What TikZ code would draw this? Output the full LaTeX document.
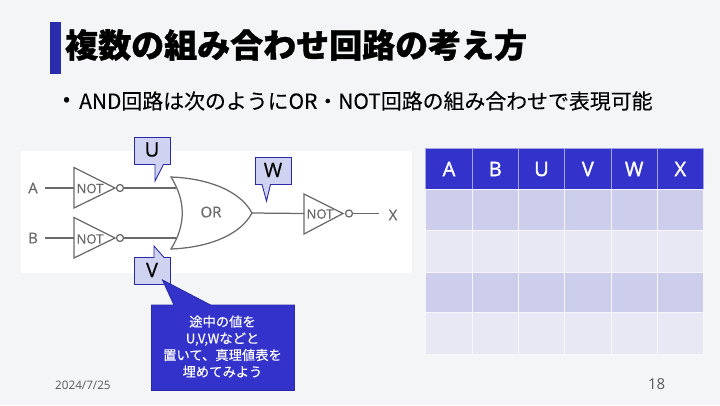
\documentclass[tikz,border=0pt]{standalone}
\usepackage{fontspec}
\setmainfont{Noto Sans CJK JP}
\newfontfamily\latinfont{Open Sans}
\newfontfamily\latinmid[FakeBold=0.4]{Open Sans}
\newfontfamily\latinheavy[FakeBold=1.5]{Open Sans}
\newfontfamily\titlefont[BoldFeatures={FakeBold=1.0}]{Noto Sans CJK JP}
\newfontfamily\bodyfont[FakeBold=0.15]{Noto Sans CJK JP}
\newfontfamily\notefont[FakeBold=0.3]{Noto Sans CJK JP}
\definecolor{pagebg}{HTML}{F4F5F7}
\definecolor{accent}{HTML}{3333CC}
\definecolor{edgeblue}{HTML}{2A2AA8}
\definecolor{bandA}{HTML}{CDCDEC}
\definecolor{bandB}{HTML}{E8E8F5}
\definecolor{calloutfill}{HTML}{CFD3F1}
\definecolor{wire}{HTML}{6A6A6A}
\tikzset{
  px/.style={x=1pt,y=-1pt},
  gateline/.style={draw=wire,line width=1.25pt},
  gatetext/.style={text=wire,font=\latinmid\fontsize{13}{15}\selectfont,inner sep=0pt},
  pintext/.style={text=wire,font=\latinmid\fontsize{15}{17}\selectfont,inner sep=0pt},
  bubble/.style={circle,draw=wire,line width=1.25pt,fill=white,minimum size=7pt,inner sep=0pt},
  callout/.style={draw=edgeblue,line width=.9pt,fill=calloutfill,line join=miter},
  calloutlabel/.style={text=black,font=\latinmid\fontsize{20}{22}\selectfont,inner sep=0pt},
  headcell/.style={draw=white!55!accent,line width=.8pt,fill=accent},
  headlabel/.style={text=white,font=\latinheavy\fontsize{20}{22}\selectfont,inner sep=0pt},
  bodycell/.style={draw=white!55!bandB,line width=.8pt},
}
\begin{document}
\begin{tikzpicture}[px]
\useasboundingbox (0,0) rectangle (720,405);
\fill[pagebg] (0,0) rectangle (720,405);
% title
\fill[accent!85!black] (50,22) rectangle (61,74);
\node[anchor=west,inner sep=0pt,text=black,font=\titlefont\fontsize{33}{36}\selectfont\bfseries] (title) at (65,45) {複数の組み合わせ回路の考え方};
\node[anchor=west,inner sep=0pt,text=black,font=\fontsize{21}{24}\selectfont] (bullet) at (63,102) {•};
\node[anchor=west,inner sep=0pt,text=black,font=\bodyfont\fontsize{20.9}{24}\selectfont] (body) at (79,101) {AND回路は次のようにOR・NOT回路の組み合わせで表現可能};
% circuit image
\fill[white] (21,151) rectangle (412,273);
\node[pintext] (A) at (33,188) {A};
\node[pintext] (B) at (33,238) {B};
\node[pintext] (X) at (393,215) {X};
\coordinate (Aend) at (45,188);
\coordinate (Bend) at (45,238);
\coordinate (Xend) at (379,213.5);
\coordinate (n1in) at (74,188);
\coordinate (n2in) at (74,238);
\coordinate (n3in) at (304,213.5);
\coordinate (orA) at (176,188);
\coordinate (orB) at (176,238);
\coordinate (orOut) at (252,213);
\draw[gateline] (74,167.5) -- (115,188) -- (74,208) -- cycle;
\draw[gateline] (74,217.5) -- (115,238) -- (74,258) -- cycle;
\draw[gateline] (304,194) -- (343,213.5) -- (304,234) -- cycle;
\node[gatetext] (not1) at (90,188.5) {NOT};
\node[gatetext] (not2) at (90,239) {NOT};
\node[gatetext] (not3) at (320,214) {NOT};
\node[bubble] (c1) at (120,188) {};
\node[bubble] (c2) at (120,238) {};
\node[bubble] (c3) at (349,213.5) {};
\draw[gateline] (171,177) .. controls (200,178) and (238,187) .. (252,213)
   .. controls (238,239) and (200,248) .. (171,249)
   .. controls (186,225) and (186,201) .. (171,177) -- cycle;
\node[pintext] (orlabel) at (211,212) {OR};
\draw[gateline] (Aend) -- (n1in);
\draw[gateline] (Bend) -- (n2in);
\draw[gateline] (c1) -- (orA);
\draw[gateline] (c2) -- (orB);
\draw[gateline] (orOut) -- (n3in);
\draw[gateline] (c3) -- (Xend);
% callouts
\draw[callout] (134.5,137.5) -- (170.5,137.5) -- (170.5,164.5) -- (163.5,164.5) -- (155,181) -- (155,164.5) -- (134.5,164.5) -- cycle;
\node[calloutlabel] (U) at (152,149.5) {U};
\draw[callout] (134.5,284.5) -- (170.5,284.5) -- (170.5,257.5) -- (164,257.5) -- (154,246) -- (154,257.5) -- (134.5,257.5) -- cycle;
\node[calloutlabel] (V) at (152,270) {V};
\draw[callout] (255.5,157.5) -- (291.5,157.5) -- (291.5,184.5) -- (270.5,184.5) -- (266.5,201) -- (262,184.5) -- (255.5,184.5) -- cycle;
\node[calloutlabel] (W) at (273,170) {W};
\draw[draw=edgeblue,line width=.9pt,fill=accent] (151.5,305) -- (174,305) -- (162.5,280) -- (210.5,305) -- (294.5,305) -- (294.5,390.5) -- (151.5,390.5) -- cycle;
\node[align=center,text=white,inner sep=0pt,font=\notefont\fontsize{13.3}{16.7}\selectfont] (note) at (222.5,346.5) {途中の値を\\U,V,Wなどと\\置いて、真理値表を\\埋めてみよう};
% table
\def\colx{{425.7,472.3,518.3,564.7,611,657.3,703.3}}
\def\rowy{{148.3,189,230,272,312.7,354}}
\foreach \name [count=\i from 0] in {A,B,U,V,W,X}{
  \pgfmathsetmacro\xa{\colx[\i]}
  \pgfmathsetmacro\xb{\colx[\i+1]}
  \path[headcell] (\xa,148.3) rectangle (\xb,189);
  \node[headlabel] (h\i) at ({(\xa+\xb)/2},169) {\name};
  \foreach \r in {1,2,3,4}{
    \pgfmathsetmacro\ya{\rowy[\r]}
    \pgfmathsetmacro\yb{\rowy[\r+1]}
    \pgfmathtruncatemacro\odd{mod(\r,2)}
    \ifnum\odd=1 \def\bandcol{bandA}\else\def\bandcol{bandB}\fi
    \path[bodycell,fill=\bandcol] (\xa,\ya) rectangle (\xb,\yb);
  }
}
% footer
\node[anchor=west,inner sep=0pt,text=black!65,font=\latinfont\fontsize{11.7}{13}\selectfont] (date) at (55,385.5) {2024/7/25};
\node[anchor=east,inner sep=0pt,text=black!65,font=\latinfont\fontsize{15}{17}\selectfont] (page) at (665.5,384.5) {18};
\end{tikzpicture}
\end{document}
